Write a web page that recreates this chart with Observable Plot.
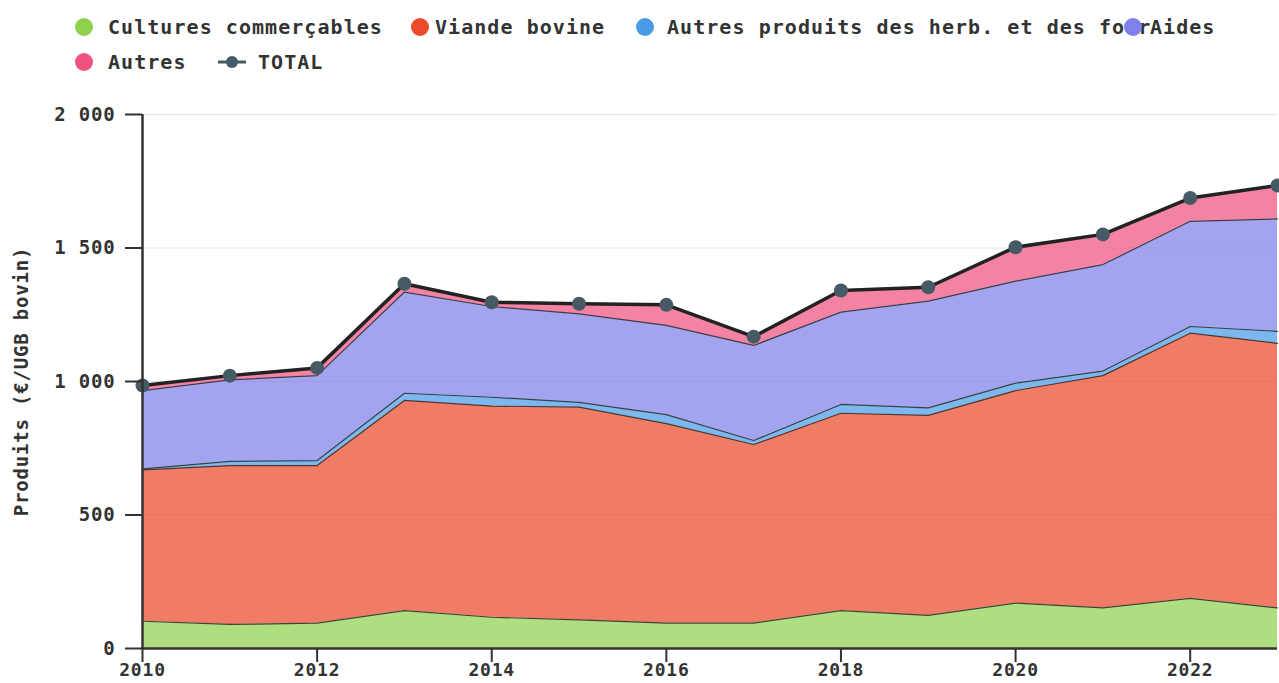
<!DOCTYPE html>
<html>
<head>
<meta charset="utf-8">
<script src="https://cdn.jsdelivr.net/npm/d3@7"></script>
<script src="https://cdn.jsdelivr.net/npm/@observablehq/plot@0.6"></script>
<style>
  html, body { margin: 0; padding: 0; background: #fff; }
  #wrap { width: 1279px; height: 683px; position: relative; overflow: hidden; }
  #legend { position: relative; height: 90px; font-family: "DejaVu Sans Mono", monospace; font-weight: bold; font-size: 20px; letter-spacing: 1.05px; color: #333; }
  .dot { position: absolute; width: 18px; height: 18px; border-radius: 50%; }
  .lab { position: absolute; line-height: 22px; white-space: nowrap; background: transparent; }
  #chart svg text { letter-spacing: 0.8px; }
</style>
</head>
<body>
<div id="wrap">
  <div id="legend"></div>
  <div id="chart"></div>
</div>
<script>
const years = [2010, 2011, 2012, 2013, 2014, 2015, 2016, 2017, 2018, 2019, 2020, 2021, 2022, 2023];
const seriesNames = ["Cultures commerçables", "Viande bovine", "Autres produits des herb. et des fourrages", "Aides", "Autres"];
const cultures   = [102, 90, 95, 142, 117, 107, 95, 95, 142, 124, 170, 152, 188, 152];
const viande     = [567, 595, 590, 787, 791, 797, 747, 669, 739, 749, 796, 870, 993, 991];
const autresHerb = [4, 16, 19, 27, 33, 18, 34, 15, 33, 28, 28, 17, 25, 45];
const aides      = [293, 305, 318, 379, 340, 331, 334, 356, 346, 400, 382, 399, 394, 421];
const autres     = [19, 16, 29, 31, 16, 38, 77, 33, 81, 52, 127, 113, 87, 125];
const total      = [985, 1022, 1051, 1366, 1297, 1291, 1287, 1168, 1341, 1353, 1503, 1551, 1687, 1734];
const totalName = "TOTAL";
const yTicks = [0, 500, 1000, 1500, 2000];
const xTicks = [2010, 2012, 2014, 2016, 2018, 2020, 2022];
const yLabel = "Produits (€/UGB bovin)";
const colors = ["#8fd14f", "#eb4a2b", "#4a9be6", "#7f80ea", "#f0527e"];
const totalColor = "#455a64";

const seriesValues = [cultures, viande, autresHerb, aides, autres];
const long = [];
seriesNames.forEach((s, i) => years.forEach((yr, j) => long.push({series: s, year: yr, value: seriesValues[i][j]})));
const totals = years.map((yr, j) => ({year: yr, value: total[j]}));

// Legend
const legend = document.getElementById("legend");
const items = [
  {i: 0, cx: 84, cy: 27, tx: 108},
  {i: 1, cx: 420, cy: 27, tx: 435},
  {i: 2, cx: 645, cy: 27, tx: 667, maxw: 484},
  {i: 3, cx: 1133, cy: 27, tx: 1150},
  {i: 4, cx: 84, cy: 62, tx: 108}
];
items.forEach(it => {
  const lab = document.createElement("span");
  lab.className = "lab";
  lab.textContent = seriesNames[it.i];
  lab.style.left = it.tx + "px";
  lab.style.top = (it.cy - 11) + "px";
  if (it.maxw) { lab.style.maxWidth = it.maxw + "px"; lab.style.overflow = "hidden"; }
  legend.appendChild(lab);
  const d = document.createElement("div");
  d.className = "dot";
  d.style.background = colors[it.i];
  d.style.left = (it.cx - 9) + "px";
  d.style.top = (it.cy - 9) + "px";
  legend.appendChild(d);
});
const tsym = document.createElementNS("http://www.w3.org/2000/svg", "svg");
tsym.setAttribute("width", 30); tsym.setAttribute("height", 16);
tsym.style.position = "absolute"; tsym.style.left = "217px"; tsym.style.top = "54px";
tsym.innerHTML = `<line x1="1" y1="8" x2="29" y2="8" stroke="${totalColor}" stroke-width="3"/><circle cx="15" cy="8" r="6" fill="${totalColor}"/>`;
legend.appendChild(tsym);
const tl = document.createElement("span");
tl.className = "lab"; tl.textContent = totalName;
tl.style.left = "258px"; tl.style.top = (62 - 11) + "px";
legend.appendChild(tl);

const fmt = d => d3.format(",")(d).replace(/,/g, " ");

const chart = Plot.plot({
  width: 1279,
  height: 593,
  marginTop: 24,
  marginBottom: 35,
  marginLeft: 142,
  marginRight: 2,
  style: {fontFamily: "DejaVu Sans Mono", fontWeight: "bold", fontSize: "19px", color: "#333", background: "#fff"},
  x: {domain: [2010, 2023]},
  y: {domain: [0, 2000]},
  color: {domain: seriesNames, range: colors},
  marks: [
    Plot.gridY(yTicks, {stroke: "#e3e3e3", strokeOpacity: 1}),
    Plot.areaY(long, {x: "year", y: "value", z: "series", fill: "series", fillOpacity: 0.72, order: seriesNames}),
    Plot.lineY(long, Plot.stackY2({x: "year", y: "value", z: "series", order: seriesNames, stroke: "#2a2a2a", strokeWidth: 1.2, strokeOpacity: 0.85})),
    Plot.line(totals, {x: "year", y: "value", stroke: "#222", strokeWidth: 3.5}),
    Plot.dot(totals, {x: "year", y: "value", r: 7, fill: totalColor}),
    Plot.axisY({ticks: yTicks, tickFormat: fmt, tickSize: 17, tickPadding: 10, label: yLabel, labelAnchor: "center", labelArrow: "none", labelOffset: 128, stroke: "#333", strokeWidth: 2}),
    Plot.axisX({ticks: xTicks, tickFormat: "d", tickSize: 14, tickPadding: 1, fontSize: 18, label: null, stroke: "#333", strokeWidth: 2}),
    Plot.ruleX([2010], {stroke: "#333", strokeWidth: 2.5}),
    Plot.ruleY([0], {stroke: "#333", strokeWidth: 2.5})
  ]
});
document.getElementById("chart").appendChild(chart);
</script>
</body>
</html>
